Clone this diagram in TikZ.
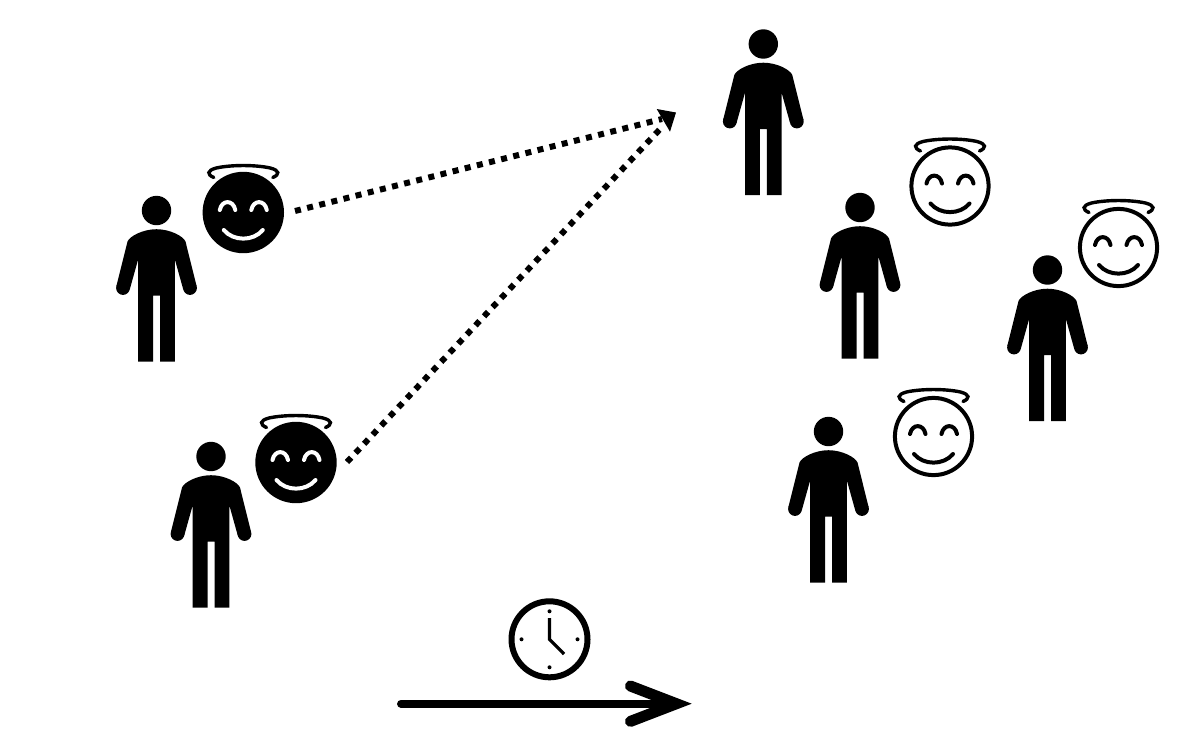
\documentclass[tikz,border=0pt]{standalone}
\tikzset{
  person/.pic={
    \fill (0,0) circle (14.7);
    \fill (-33.5,77.5) circle (6.9);
    \fill (33.5,77.5) circle (6.9);
    \fill (-18.3,151) -- (-18.3,48.7) -- (-26.8,79.1) -- (-40.2,75.9)
      -- (-29,31) .. controls (-27,26) and (-14,18.7) .. (0,18.7)
      .. controls (14,18.7) and (27,26) .. (29,31)
      -- (40.2,75.9) -- (26.8,79.1)
      -- (18.3,48.7) -- (18.3,151) -- (3.5,151) -- (3.5,85) -- (-3.5,85) -- (-3.5,151) -- cycle;
  },
  halo/.style={line width=3.4pt,line cap=round},
  smileylines/.style={line width=4pt,line cap=round},
  smileyface/.pic={
    \draw[halo,black] (-29.5,-35) .. controls (-36.5,-38) and (-36.5,-42) .. (-27,-44.5)
      .. controls (-12,-47.8) and (12,-47.8) .. (27,-44.5)
      .. controls (36.5,-42) and (36.5,-38) .. (29.5,-35);
    \draw[smileylines,pic actions] (-23.5,-2.5) .. controls (-21.5,-13) and (-10,-13) .. (-8,-2.5);
    \draw[smileylines,pic actions] (8,-2.5) .. controls (10,-13) and (21.5,-13) .. (23.5,-2.5);
    \draw[smileylines,pic actions] (-19.5,17.5) .. controls (-10,29) and (10,29) .. (19.5,17.5);
  },
  darksmiley/.pic={
    \fill (0,0) circle (40.7);
    \pic[draw=white] {smileyface};
  },
  lightsmiley/.pic={
    \draw[line width=4pt] (0,0) circle (38.6);
    \pic[draw=black] {smileyface};
  },
  dotline/.style={line width=6pt,dash pattern=on 6pt off 6.5pt},
  clockrim/.style={line width=6pt},
  clockhand/.style={line width=3.2pt},
  timeshaft/.style={line width=8pt,line cap=round},
  timehead/.style={line width=11pt,line cap=round,line join=miter},
}
\begin{document}
\begin{tikzpicture}[x=1pt,y=-1pt]
\useasboundingbox (0,0) rectangle (1190,747);
\pic at (156.5,210.5) {person};
\pic at (211,456.5) {person};
\pic at (763.3,44) {person};
\pic at (860,207.5) {person};
\pic at (1047.5,270) {person};
\pic at (828.5,431.5) {person};
\pic at (243.3,212.5) {darksmiley};
\pic at (296,462.5) {darksmiley};
\pic at (950,186) {lightsmiley};
\pic at (1118.5,247.5) {lightsmiley};
\pic at (933.5,436.5) {lightsmiley};
\coordinate (s1) at (295,211);
\coordinate (s2) at (347,462);
\coordinate (t1) at (662,119);
\coordinate (t2) at (662,127);
\draw[dotline] (s1) -- (t1);
\draw[dotline] (s2) -- (t2);
\fill (676,112.5) -- (656.7,109) -- (670,131.7) -- cycle;
\coordinate (clk) at (549.5,639.3);
\draw[clockrim] (clk) circle (38);
\foreach \a in {0,90,180,270} \fill (clk) ++(\a:28) circle (2);
\draw[clockhand] (549.5,618) -- (clk) -- (564,654);
\coordinate (a0) at (401,703.7);
\coordinate (a1) at (676.4,703.7);
\draw[timeshaft] (a0) -- (a1);
\draw[timehead] (630.4,686) -- (a1) -- (630.4,721.4);
\end{tikzpicture}
\end{document}
